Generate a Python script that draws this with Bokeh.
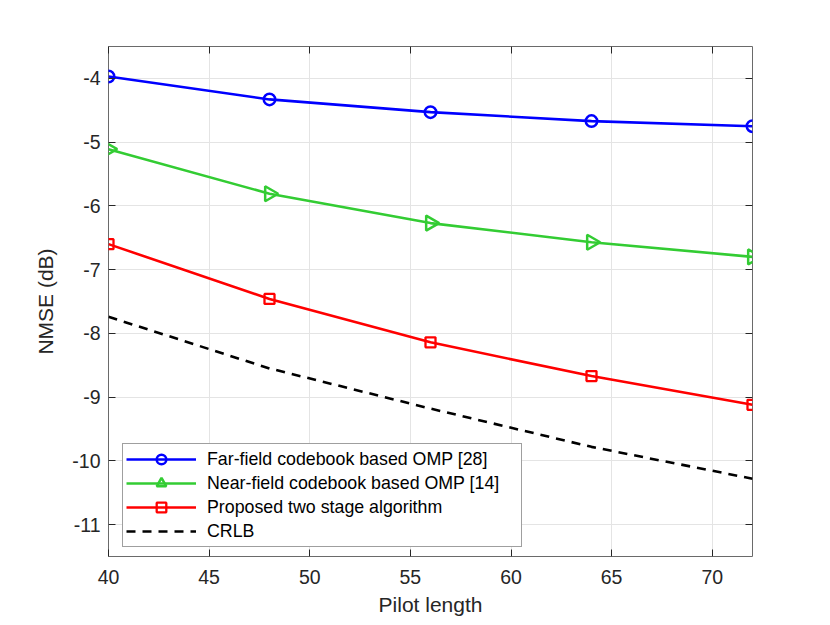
import math
from bokeh.plotting import figure
from bokeh.models import LinearAxis, FixedTicker, Range1d, Legend
from bokeh.embed import file_html
from bokeh.resources import INLINE

pilot = [40, 48, 56, 64, 72]
far_field = [-3.97, -4.33, -4.53, -4.67, -4.75]
near_field = [-5.11, -5.81, -6.27, -6.57, -6.80]
proposed = [-6.60, -7.46, -8.14, -8.67, -9.12]
crlb = [-7.74, -8.55, -9.18, -9.78, -10.28]

x_ticks = [40, 45, 50, 55, 60, 65, 70]
y_ticks = [-11, -10, -9, -8, -7, -6, -5, -4]
y_tick_labels = ["-11", "-10", "-9", "-8", "-7", "-6", "-5", "-4"]

FONT = "Liberation Sans"
TXT = "#262626"

p = figure(frame_width=644, frame_height=510, output_backend="svg", toolbar_location=None,
           x_range=Range1d(40, 72), y_range=Range1d(-11.5, -3.5),
           min_border_left=108, min_border_top=46, min_border_right=60, min_border_bottom=30)
p.background_fill_color = "white"
p.border_fill_color = "white"
p.outline_line_color = "#6a6a6a"
p.outline_line_width = 1

for g in (p.xgrid, p.ygrid):
    g.grid_line_color = "#e4e4e4"
    g.grid_line_width = 1
p.xgrid.ticker = FixedTicker(ticks=x_ticks)
p.ygrid.ticker = FixedTicker(ticks=y_ticks)

xa = p.xaxis[0]
ya = p.yaxis[0]
xa.ticker = FixedTicker(ticks=x_ticks)
ya.ticker = FixedTicker(ticks=y_ticks)
ya.major_label_overrides = {t: s for t, s in zip(y_ticks, y_tick_labels)}
xa.axis_label = "Pilot length"
ya.axis_label = "NMSE (dB)"
for ax in (xa, ya):
    ax.axis_line_color = None
    ax.major_tick_in = 7
    ax.major_tick_out = 0
    ax.major_tick_line_color = TXT
    ax.minor_tick_line_color = None
    ax.major_label_text_font = FONT
    ax.major_label_text_font_size = "19.5px"
    ax.major_label_text_color = TXT
    ax.axis_label_text_font = FONT
    ax.axis_label_text_font_size = "21px"
    ax.axis_label_text_font_style = "normal"
    ax.axis_label_text_color = TXT
xa.major_label_standoff = 13
xa.axis_label_standoff = 6
ya.major_label_standoff = 8
ya.axis_label_standoff = 12

for loc, tk in (("above", x_ticks), ("right", y_ticks)):
    ax = LinearAxis(ticker=FixedTicker(ticks=tk))
    ax.axis_line_color = None
    ax.major_tick_in = 7
    ax.major_tick_out = 0
    ax.major_tick_line_color = TXT
    ax.minor_tick_line_color = None
    ax.major_label_text_font_size = "0px"
    ax.major_label_standoff = 0
    ax.major_label_overrides = {t: "" for t in tk}
    p.add_layout(ax, loc)

lw = 2.6
r1 = p.line(pilot, far_field, line_color="#0000ff", line_width=lw)
m1 = p.scatter(pilot, far_field, marker="circle", size=11.5, fill_color=None,
               line_color="#0000ff", line_width=2.5)
r2 = p.line(pilot, near_field, line_color="#33cc33", line_width=lw)
m2 = p.scatter(pilot, near_field, marker="triangle", angle=-math.pi / 2, size=15,
               fill_color=None, line_color="#33cc33", line_width=2.5)
r3 = p.line(pilot, proposed, line_color="#ff0000", line_width=lw)
m3 = p.scatter(pilot, proposed, marker="square", size=10, fill_color=None,
               line_color="#ff0000", line_width=2.3)
r4 = p.line(pilot, crlb, line_color="black", line_width=lw, line_dash="9 7")

legend = Legend(items=[
    ("Far-field codebook based OMP [28]", [r1, m1]),
    ("Near-field codebook based OMP [14]", [r2, m2]),
    ("Proposed two stage algorithm", [r3, m3]),
    ("CRLB", [r4]),
], location=(14, 9))
legend.padding = 3
legend.spacing = 0
legend.margin = 0
legend.glyph_width = 70
legend.glyph_height = 24
legend.label_height = 24
legend.label_width = 311
legend.label_standoff = 11
legend.label_text_font = FONT
legend.label_text_font_size = "17.8px"
legend.label_text_color = "black"
legend.border_line_color = "#404040"
legend.border_line_width = 1
legend.background_fill_color = "white"
legend.background_fill_alpha = 1
p.add_layout(legend, "center")

open("out.html", "w").write(file_html(p, INLINE))
